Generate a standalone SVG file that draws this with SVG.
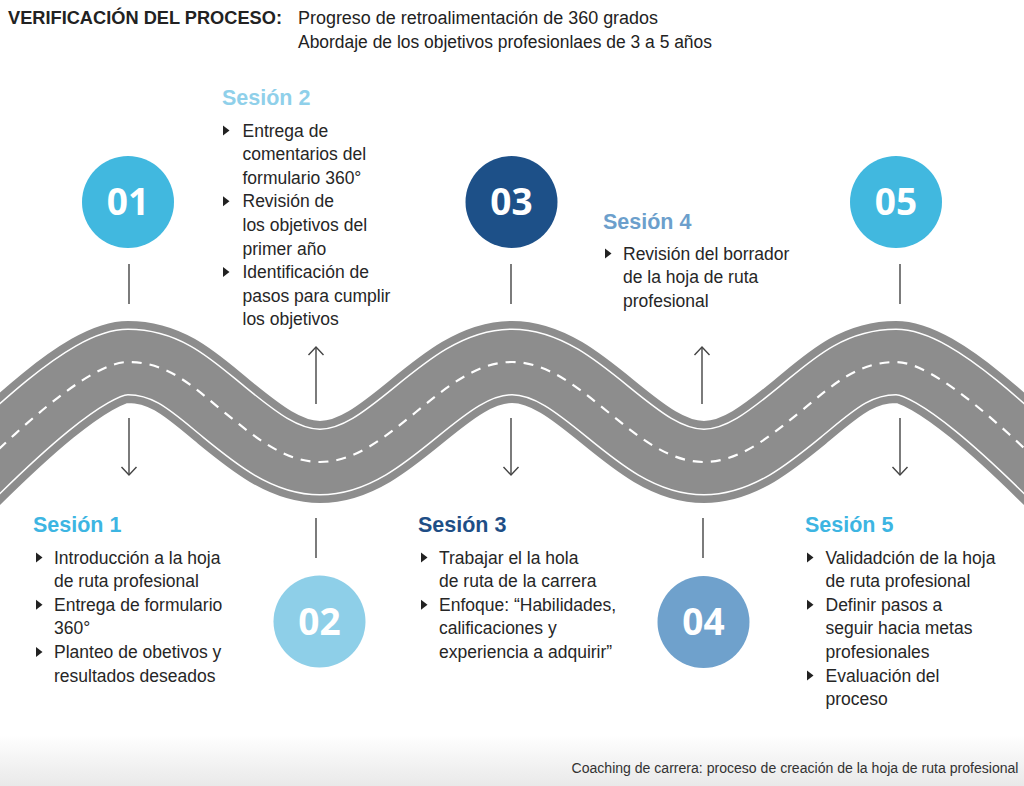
<svg xmlns="http://www.w3.org/2000/svg" xmlns:xlink="http://www.w3.org/1999/xlink" width="1024" height="786" viewBox="0 0 1024 786">
<style>
.hd{font-family:"Liberation Sans",Arial,sans-serif;font-size:18px;fill:#222}
.hdb{font-weight:bold}
.ses{font-family:"Liberation Sans",Arial,sans-serif;font-size:21.5px;font-weight:bold}
.body{font-family:"Liberation Sans",Arial,sans-serif;font-size:17.5px;fill:#262626}
.num{font-family:"Open Sans","Liberation Sans",sans-serif;font-size:37px;font-weight:bold;fill:#fff;text-anchor:middle}
.cn{stroke:#444;stroke-width:1.4;fill:none}
.foot{font-family:"Liberation Sans",Arial,sans-serif;font-size:14px;fill:#333}
</style>
<defs>
<path id="road" d="M -40,487 C 10,437 88,362 128,362 C 168,362 192.7,386.4 224,412 S 285.27,462 320,462 S 384.7,437.6 416,412 S 477.27,362 512,362 S 576.7,386.4 608,412 S 669.27,462 704,462 S 768.7,437.6 800,412 S 856,362 896,362 C 936,362 1014,437 1064,487"/>
<path id="bul" d="M0,-5 L6.5,0 L0,5 Z" fill="#222"/>
<marker id="ah" viewBox="-10 -9 12 18" refX="0" refY="0" markerWidth="12" markerHeight="18" markerUnits="userSpaceOnUse" orient="auto">
<path d="M -8,-7.5 L 0,0 L -8,7.5" fill="none" stroke="#444" stroke-width="1.4"/>
</marker>
<linearGradient id="fg" x1="0" y1="0" x2="0" y2="1">
<stop offset="0" stop-color="#ffffff"/>
<stop offset="1" stop-color="#e9e9e9"/>
</linearGradient>
</defs>
<rect width="1024" height="786" fill="#fff"/>
<rect x="0" y="735" width="1024" height="51" fill="url(#fg)"/>

<g id="header">
<text class="hd hdb" x="8" y="24" textLength="274" lengthAdjust="spacingAndGlyphs">VERIFICACIÓN DEL PROCESO:</text>
<text class="hd" x="298" y="24" textLength="360" lengthAdjust="spacingAndGlyphs">Progreso de retroalimentación de 360 grados</text>
<text class="hd" x="298" y="48" textLength="414" lengthAdjust="spacingAndGlyphs">Abordaje de los objetivos profesionlaes de 3 a 5 años</text>
</g>

<g id="road-group">
<use xlink:href="#road" href="#road" fill="none" stroke="#8d8d8d" stroke-width="82"/>
<use xlink:href="#road" href="#road" fill="none" stroke="#ffffff" stroke-width="67"/>
<use xlink:href="#road" href="#road" fill="none" stroke="#8d8d8d" stroke-width="64"/>
<use xlink:href="#road" href="#road" fill="none" stroke="#ffffff" stroke-width="2.2" stroke-dasharray="10 8"/>
</g>

<g id="connectors">
<line class="cn" x1="129" y1="264" x2="129" y2="304"/>
<line class="cn" x1="129" y1="418" x2="129" y2="475" marker-end="url(#ah)"/>
<line class="cn" x1="316" y1="404" x2="316" y2="347" marker-end="url(#ah)"/>
<line class="cn" x1="316" y1="518" x2="316" y2="558"/>
<line class="cn" x1="511" y1="264" x2="511" y2="304"/>
<line class="cn" x1="511" y1="418" x2="511" y2="475" marker-end="url(#ah)"/>
<line class="cn" x1="702" y1="404" x2="702" y2="347" marker-end="url(#ah)"/>
<line class="cn" x1="703" y1="518" x2="703" y2="558"/>
<line class="cn" x1="900" y1="264" x2="900" y2="304"/>
<line class="cn" x1="900" y1="418" x2="900" y2="475" marker-end="url(#ah)"/>
</g>

<g id="node01">
<circle cx="128" cy="202" r="46" fill="#41b8df"/>
<text class="num" x="128" y="215">01</text>
<text class="ses" x="33" y="532" fill="#3db5e2">Sesión 1</text>
<use href="#bul" xlink:href="#bul" x="36" y="557.5"/>
<use href="#bul" xlink:href="#bul" x="36" y="604.7"/>
<use href="#bul" xlink:href="#bul" x="36" y="651.9"/>
<text class="body">
<tspan x="54" y="563.5">Introducción a la hoja</tspan>
<tspan x="54" y="587.1">de ruta  profesional</tspan>
<tspan x="54" y="610.7">Entrega de formulario</tspan>
<tspan x="54" y="634.3">360°</tspan>
<tspan x="54" y="657.9">Planteo de obetivos y</tspan>
<tspan x="54" y="681.5">resultados deseados</tspan>
</text>
</g>

<g id="node02">
<circle cx="319.5" cy="621.5" r="46" fill="#8ecfe8"/>
<text class="num" x="319.5" y="634.5">02</text>
<text class="ses" x="222" y="105" fill="#8fd0ea">Sesión 2</text>
<use href="#bul" xlink:href="#bul" x="223" y="130.5"/>
<use href="#bul" xlink:href="#bul" x="223" y="201.3"/>
<use href="#bul" xlink:href="#bul" x="223" y="272.1"/>
<text class="body">
<tspan x="242.5" y="136.5">Entrega de</tspan>
<tspan x="242.5" y="160.1">comentarios del</tspan>
<tspan x="242.5" y="183.7">formulario 360°</tspan>
<tspan x="242.5" y="207.3">Revisión de</tspan>
<tspan x="242.5" y="230.9">los objetivos del</tspan>
<tspan x="242.5" y="254.5">primer año</tspan>
<tspan x="242.5" y="278.1">Identificación de</tspan>
<tspan x="242.5" y="301.7">pasos para cumplir</tspan>
<tspan x="242.5" y="325.3">los  objetivos</tspan>
</text>
</g>

<g id="node03">
<circle cx="511.5" cy="202" r="46" fill="#1d5088"/>
<text class="num" x="511.5" y="215">03</text>
<text class="ses" x="418" y="532" fill="#1e4e86">Sesión 3</text>
<use href="#bul" xlink:href="#bul" x="421" y="557.5"/>
<use href="#bul" xlink:href="#bul" x="421" y="604.7"/>
<text class="body">
<tspan x="439" y="563.5">Trabajar el la hola</tspan>
<tspan x="439" y="587.1">de ruta de la carrera</tspan>
<tspan x="439" y="610.7">Enfoque: “Habilidades,</tspan>
<tspan x="439" y="634.3">calificaciones y</tspan>
<tspan x="439" y="657.9">experiencia a adquirir”</tspan>
</text>
</g>

<g id="node04">
<circle cx="703.5" cy="622" r="46" fill="#6fa1cc"/>
<text class="num" x="703.5" y="635">04</text>
<text class="ses" x="603" y="229" fill="#6c9fcc">Sesión 4</text>
<use href="#bul" xlink:href="#bul" x="605" y="253.5"/>
<text class="body">
<tspan x="623" y="259.5">Revisión del borrador</tspan>
<tspan x="623" y="283.1">de la hoja de ruta</tspan>
<tspan x="623" y="306.7">profesional</tspan>
</text>
</g>

<g id="node05">
<circle cx="896" cy="202" r="46" fill="#41b8df"/>
<text class="num" x="896" y="215">05</text>
<text class="ses" x="805" y="532" fill="#3db5e2">Sesión 5</text>
<use href="#bul" xlink:href="#bul" x="807" y="557.5"/>
<use href="#bul" xlink:href="#bul" x="807" y="604.7"/>
<use href="#bul" xlink:href="#bul" x="807" y="675.5"/>
<text class="body">
<tspan x="825.5" y="563.5">Validadción de la hoja</tspan>
<tspan x="825.5" y="587.1">de ruta  profesional</tspan>
<tspan x="825.5" y="610.7">Definir pasos a</tspan>
<tspan x="825.5" y="634.3">seguir hacia metas</tspan>
<tspan x="825.5" y="657.9">profesionales</tspan>
<tspan x="825.5" y="681.5">Evaluación del</tspan>
<tspan x="825.5" y="705.1">proceso</tspan>
</text>
</g>

<g id="footer">
<text class="foot" x="571.5" y="773" textLength="447" lengthAdjust="spacingAndGlyphs">Coaching de carrera: proceso de creación de la hoja de ruta profesional</text>
</g>
</svg>
